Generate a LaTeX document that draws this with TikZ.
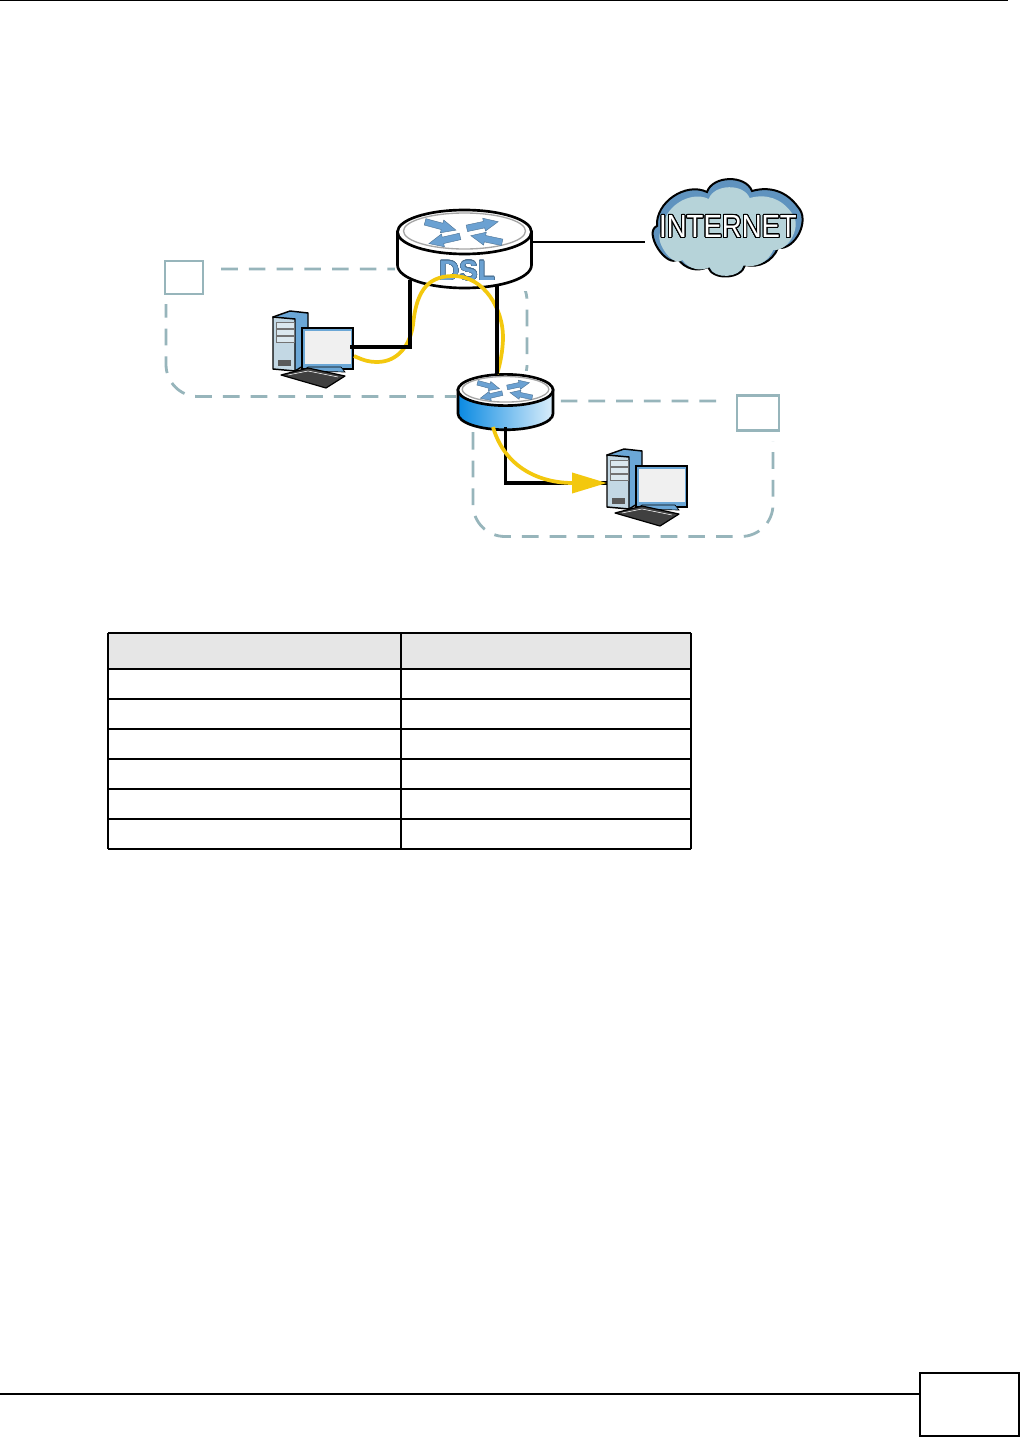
\documentclass[tikz,border=0pt]{standalone}
\usepackage{fontspec}
\setmainfont{Liberation Sans}
\usepackage[copies]{contour}
\usetikzlibrary{arrows.meta}
\contournumber{32}

\definecolor{zonecol}{HTML}{97B5BB}
\definecolor{flowcol}{HTML}{F3C80E}
\definecolor{arrowcol}{HTML}{6BA1D2}
\definecolor{towercol}{HTML}{C3D8E4}
\definecolor{sidecol}{HTML}{6BA7D6}
\definecolor{routercol}{HTML}{0A8AE2}
\definecolor{cloudcol}{HTML}{5F93BF}
\definecolor{cloudin}{HTML}{B6D3D9}
\definecolor{headcol}{HTML}{E6E6E6}

\newcommand{\cloudpath}{(657,226) to[bend left=60] (707,192) to[bend left=70] (752,191) to[bend left=35] (798,207) to[bend left=70] (778,248) to[bend left=40] (745,265) to[bend left=75] (708,267) to[bend left=40] (678,259) to[bend left=100] cycle}

\tikzset{
	router/.pic={
		\fill[white] (-70,-27) rectangle (70,59);
		\draw[line width=2pt,left color=#1,right color=#1!15!white] (-67,0) -- (-67,33) .. controls (-67,46) and (-37,56) .. (0,56) .. controls (37,56) and (67,46) .. (67,33) -- (67,0) -- cycle;
		\draw[line width=2pt,fill=white] (0,0) ellipse [x radius=67,y radius=22];
		\draw[gray!70,line width=1pt] (0,-1) ellipse [x radius=61,y radius=18];
		\foreach \ax/\ay/\ar in {-24/-6/-15,18/-7/12,-20/8/193,22/7/168}{
			\fill[arrowcol,draw=arrowcol!70!black,line width=.3pt,shift={(\ax,\ay)},rotate=\ar,xscale=16,yscale=11]
				(-1,-.3) -- (.1,-.3) -- (.1,-.6) -- (1,0) -- (.1,.6) -- (.1,.3) -- (-1,.3) -- cycle;
		}
	},
	computer/.pic={
		\fill[white] (-2,-2) rectangle (83,79);
		\draw[line width=1.1pt,fill=sidecol,line join=round] (0,6) -- (17,0) -- (35,2) -- (35,52) -- (22,60) -- cycle;
		\draw[line width=1.1pt,fill=towercol,line join=round] (0,6) -- (22,8) -- (22,60) -- (0,58) -- cycle;
		\foreach \by in {11,18,25}{
			\draw[black!55,line width=.4pt,fill=towercol!60!white] (3,\by) rectangle (21,\by+6);
		}
		\fill[black!65] (5,49) rectangle (18,55);
		\draw[line width=1.1pt,fill=sidecol] (29,17) rectangle (80,58);
		\fill[black!6] (31.5,19.5) rectangle (78,52.5);
		\draw[line width=.5pt,fill=sidecol] (35,56) -- (68,56) -- (72,61) -- (30,60) -- cycle;
		\draw[line width=.9pt,fill=black!75,line join=round] (8,64) -- (35,57) -- (72,65) -- (53,77) -- cycle;
		\draw[white,line width=.4pt] (15,64) -- (35,60) -- (65,66);
	}
}

\begin{document}
\begin{tikzpicture}
	[x=.75pt,y=-.75pt,
	devicebox/.style={inner sep=0pt,outer sep=0pt},
	zone/.style={draw=zonecol,line width=2.1pt,rounded corners=24pt,dash pattern=on 12.5pt off 8.3pt},
	tagbox/.style={draw=zonecol,line width=2pt,fill=white,inner sep=0pt,preaction={draw=white,line width=15pt}},
	wire/.style={black,line width=2.5pt},
	flow/.style={flowcol,line width=2.8pt},
	rule/.style={black,line width=.8pt}]
	\useasboundingbox (0,0) rectangle (1020,1438);
	\fill[white] (0,0) rectangle (1020,1438);

	% page rules
	\draw[rule] (0,.5) -- (1008,.5);
	\draw[rule] (0,1394) -- (920,1394);
	\draw[black,line width=1.2pt] (920,1373) rectangle (1019,1436);

	% the two zones
	\draw[zone] (166,269) rectangle (527,396.5);
	\draw[zone] (473,401) rectangle (773,536.5);
	\node[tagbox,minimum width=38*.75pt,minimum height=33*.75pt] (lantag) at (184,277.5) {};
	\node[tagbox,minimum width=42*.75pt,minimum height=35*.75pt] (wantag) at (758,413) {};

	% devices
	\node[devicebox,minimum width=135*.75pt,minimum height=78*.75pt] (dsl) at (464.5,249) {};
	\node[devicebox,minimum width=95*.75pt,minimum height=53*.75pt] (wan) at (505.5,400.5) {};
	\node[devicebox,minimum width=81*.75pt,minimum height=77*.75pt] (pclan) at (313.5,349.5) {};
	\node[devicebox,minimum width=81*.75pt,minimum height=77*.75pt] (pcwan) at (647.5,487.5) {};
	\node[devicebox,minimum width=157*.75pt,minimum height=96*.75pt] (cloud) at (723.5,225) {};

	\pic at (464.5,232) {router=white};
	\pic[scale=.71] at (505.5,390) {router=routercol};
	\pic at (273,311) {computer};
	\pic at (607,449) {computer};
	\node[devicebox,text=arrowcol] (dsltext) at (467,271) {\fontsize{21}{21}\selectfont\bfseries\contourlength{.35pt}\contour{arrowcol!70!black}{\textcolor{arrowcol}{DSL}}};

	% cloud
	\draw[line width=1.5pt,fill=cloudcol] \cloudpath;
	\begin{scope}[shift={(726,229)},scale=.91,shift={(-726,-225)}]
		\fill[cloudin] \cloudpath;
	\end{scope}
	\node[devicebox,transform shape,xscale=.86] (inettext) at (728,227) {\fontsize{24}{24}\selectfont\contourlength{.8pt}\contour{black}{\textcolor{white}{INTERNET}}};

	% connections
	\draw[flow] (pclan.east |- 0,356) .. controls (365,361) and (370,362) .. (377,362)
		.. controls (398,362) and (410,345) .. (413,325)
		.. controls (416,295) and (425,276) .. (453,276)
		.. controls (485,276) and (503,310) .. (503,337)
		.. controls (503,350) and (500,365) .. (wan.north -| 497,0);
	\draw[wire,line width=1.6pt] (dsl.east |- 0,242) -- (cloud.west |- 0,242);
	\draw[wire] (dsl.south) ++(-54.5,-8) |- ([xshift=-3pt]pclan.east |- 0,347);
	\draw[wire] (dsl.south) ++(32.5,-2) -- (wan.north -| 497,0);
	\draw[wire] (wan.south) |- (pcwan.west |- 0,483);
	\draw[flow,-{Triangle[length=35*.75pt,width=20*.75pt]}] ([xshift=-9.4pt]wan.south) .. controls (505,468) and (540,483) .. (pcwan.west |- 0,483);

	% table
	\fill[headcol] (108,633) rectangle (691,669);
	\foreach \ry in {633,669,699,729,759,789,819,849}{
		\draw[rule] (108,\ry) -- (691,\ry);
	}
	\foreach \rx in {108,401,691}{
		\draw[rule] (\rx,633) -- (\rx,849);
	}
\end{tikzpicture}
\end{document}
